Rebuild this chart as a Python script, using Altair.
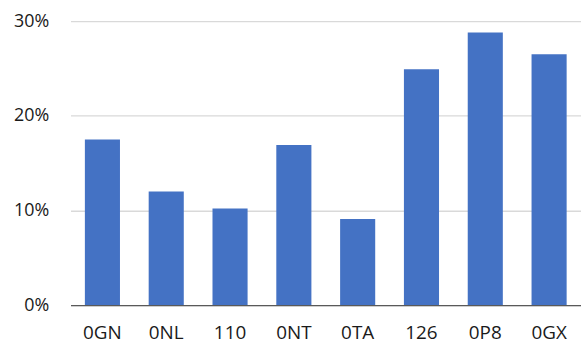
import altair as alt
import pandas as pd

categories = ["0GN", "0NL", "110", "0NT", "0TA", "126", "0P8", "0GX"]
values = [0.175, 0.120, 0.102, 0.169, 0.091, 0.249, 0.288, 0.265]

df = pd.DataFrame({"cat": categories, "val": values})

FONT = "Open Sans"

chart = alt.Chart(df).mark_bar(color="#4472C4").encode(
    x=alt.X("cat:N", sort=categories, title=None,
            scale=alt.Scale(paddingInner=0.45, paddingOuter=0.225),
            axis=alt.Axis(labelAngle=0, labelFont=FONT, labelFontSize=19,
                          labelColor="#1a1a1a", labelPadding=19, ticks=False,
                          domainColor="#595959", domainWidth=1.3)),
    y=alt.Y("val:Q", title=None,
            scale=alt.Scale(domain=[0, 0.3], nice=False),
            axis=alt.Axis(format=".0%", values=[0, 0.1, 0.2, 0.3],
                          labelFont=FONT, labelFontSize=18, labelColor="#1a1a1a",
                          labelPadding=22, ticks=False, domain=False,
                          gridColor="#d9d9d9", gridWidth=1.3)),
).properties(
    width=514, height=286,
    autosize=alt.AutoSizeParams(type="none"),
    padding={"left": 71, "top": 20, "right": 0, "bottom": 43},
).configure_view(stroke=None)

chart.save("out.html", embed_options={"renderer": "svg", "actions": False})
